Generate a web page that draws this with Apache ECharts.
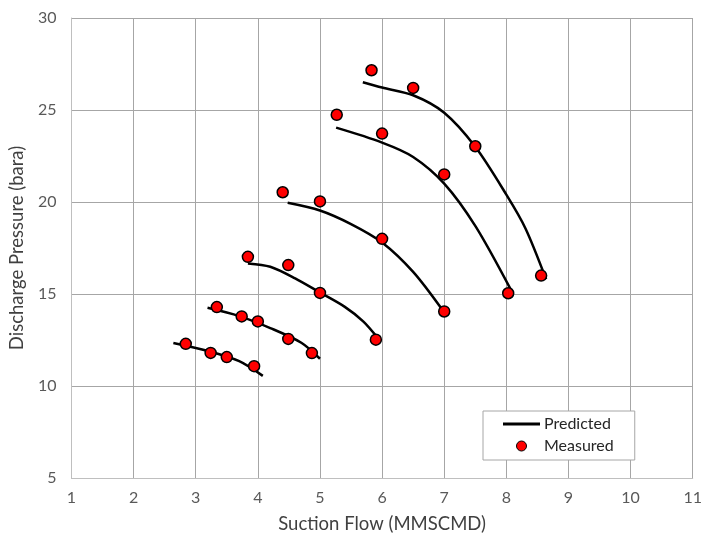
<!DOCTYPE html>
<html>
<head>
<meta charset="utf-8">
<script src="https://cdn.jsdelivr.net/npm/echarts@6/dist/echarts.min.js"></script>
<style>html,body{margin:0;padding:0;background:#fff}#c{width:705px;height:539px}</style>
</head>
<body>
<div id="c"></div>
<script>
// Predicted curves [flow, pressure]
var predicted1 = [[2.64,12.34],[3.2,11.9],[3.7,11.35],[4.08,10.55]];
var predicted2 = [[3.19,14.25],[3.7,13.8],[4.2,13.15],[4.7,12.35],[5.0,11.48]];
var predicted3 = [[3.84,16.66],[4.2,16.48],[4.6,15.85],[5.0,15.08],[5.4,14.3],[5.7,13.5],[5.93,12.61]];
var predicted4 = [[4.48,19.96],[5.0,19.54],[5.5,18.8],[6.0,17.8],[6.5,16.2],[6.97,14.14]];
var predicted5 = [[5.26,24.04],[6.0,23.23],[6.5,22.45],[7.0,21.0],[7.5,18.7],[8.07,15.25]];
var predicted6 = [[5.69,26.51],[6.0,26.22],[6.5,25.8],[7.0,24.85],[7.5,23.0],[8.0,20.4],[8.31,18.55],[8.64,15.8]];

// Measured points
var measuredFlow = [2.84,3.24,3.5,3.94, 3.34,3.74,4.0,4.49,4.87, 3.84,4.49,5.0,5.9, 4.4,5.0,6.0,7.0, 5.27,6.0,7.0,8.03, 5.83,6.5,7.5,8.56];
var measuredPressure = [12.29,11.8,11.57,11.08, 14.29,13.78,13.51,12.56,11.79, 17.02,16.57,15.06,12.52, 20.53,20.03,18.0,14.05, 24.74,23.72,21.5,15.04, 27.16,26.2,23.03,16.0];

var xTicks = [1,2,3,4,5,6,7,8,9,10,11];
var yTicks = [5,10,15,20,25,30];

var FONT = 'Lato';
var chart = echarts.init(document.getElementById('c'), null, {renderer: 'canvas'});
var predictedCurves = [predicted1, predicted2, predicted3, predicted4, predicted5, predicted6];
var series = predictedCurves.map(function (d) {
  return {
    name: 'Predicted', type: 'line', data: d, smooth: 0.3, symbol: 'none',
    lineStyle: {color: '#000', width: 2.5}, itemStyle: {color: '#000'}, z: 2
  };
});
series.push({
  name: 'Measured', type: 'scatter',
  data: measuredFlow.map(function (x, i) { return [x, measuredPressure[i]]; }),
  symbol: 'circle', symbolSize: 11,
  itemStyle: {color: '#ff0000', borderColor: '#000', borderWidth: 1.5, opacity: 1}, z: 3
});

chart.setOption({
  animation: false,
  backgroundColor: '#fff',
  grid: {left: 70, right: 10, top: 18, bottom: 58, containLabel: false},
  legend: {
    data: [
      {name: 'Predicted', icon: 'path://M0,0L37,0L37,3L0,3Z', itemStyle: {color: '#000', borderWidth: 0}},
      {name: 'Measured', icon: 'circle', itemStyle: {color: '#ff0000', borderColor: '#000', borderWidth: 1, opacity: 1}}
    ],
    orient: 'vertical', left: 483, top: 411,
    itemWidth: 37, itemHeight: 10, itemGap: 6,
    padding: [5, 21, 6, 20],
    borderColor: '#a6a6a6', borderWidth: 1, backgroundColor: '#fff',
    textStyle: {fontFamily: FONT, fontSize: 16, color: '#262626', padding: [0,0,0,-1]}
  },
  xAxis: {
    type: 'value', min: 1, max: 11, interval: 1,
    name: 'Suction Flow (MMSCMD)', nameLocation: 'middle', nameGap: 37,
    nameTextStyle: {fontFamily: FONT, fontSize: 18.5, color: '#404040'},
    axisLine: {show: true, lineStyle: {color: '#bfbfbf', width: 1}},
    axisTick: {show: false},
    axisLabel: {fontFamily: FONT, fontSize: 16, color: '#595959', margin: 12,
      formatter: function (v) { return xTicks.indexOf(v) >= 0 ? String(v) : ''; }},
    splitLine: {show: true, lineStyle: {color: '#a6a6a6', width: 1}}
  },
  yAxis: {
    type: 'value', min: 5, max: 30, interval: 5,
    name: 'Discharge Pressure (bara)', nameLocation: 'middle', nameGap: 36, nameRotate: 90,
    nameTextStyle: {fontFamily: FONT, fontSize: 18.5, color: '#404040'},
    axisLine: {show: true, lineStyle: {color: '#bfbfbf', width: 1}},
    axisTick: {show: false},
    axisLabel: {fontFamily: FONT, fontSize: 16, color: '#595959', margin: 15,
      formatter: function (v) { return yTicks.indexOf(v) >= 0 ? String(v) : ''; }},
    splitLine: {show: true, lineStyle: {color: '#a6a6a6', width: 1}}
  },
  series: series
});
</script>
</body>
</html>
